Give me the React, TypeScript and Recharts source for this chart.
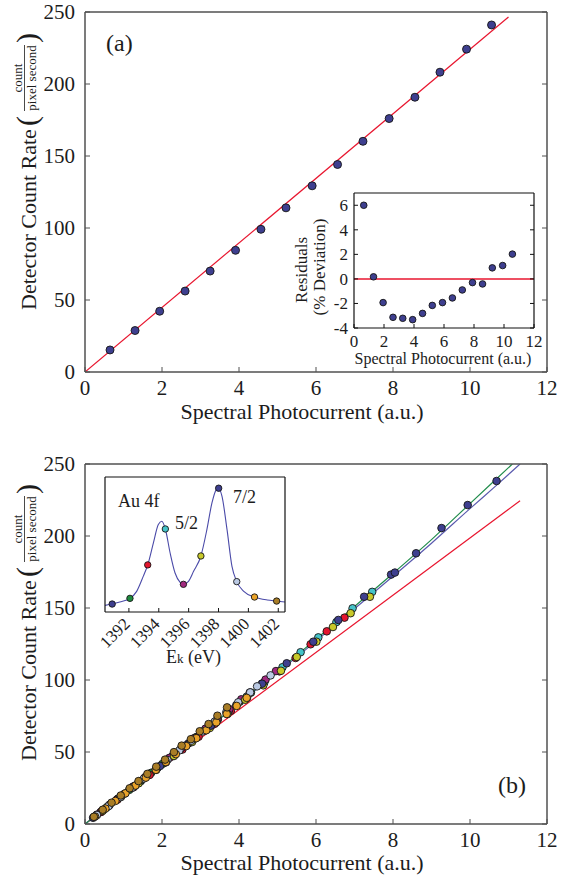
import { ComposedChart, Scatter, Line, XAxis, YAxis, ReferenceLine, Cell } from "recharts";

const SERIF = '"Liberation Serif", "Times New Roman", Times, serif';
const INK = "#1c1c1c";
const FRAME = "#505050";
const BOX = "#111111";
const FIT_RED = "#e8162f";
const NAVY = "#3e3f8f";

// ---- panel (a): linearity check ----
const photocurrentA = [0.65, 1.3, 1.94, 2.6, 3.25, 3.91, 4.57, 5.22, 5.9, 6.56, 7.22, 7.9, 8.57, 9.22, 9.91, 10.56];
const countRateA = [15.3, 28.8, 42.2, 56.2, 70.1, 84.5, 99.1, 114, 129.3, 144.1, 160.2, 176, 190.8, 208.2, 224.2, 241];
const residualA = [6.0, 0.17, -1.93, -3.13, -3.21, -3.32, -2.81, -2.16, -1.93, -1.55, -0.9, -0.3, -0.41, 0.9, 1.09, 2.02];
const fitLineA = [[0, 0], [11.0, 246.5]];

const mainXTicks = [0, 2, 4, 6, 8, 10, 12];
const mainYTicks = [0, 50, 100, 150, 200, 250];
const residXTicks = [0, 2, 4, 6, 8, 10, 12];
const residYTicks = [-4, -2, 0, 2, 4, 6];

// ---- panel (b): runs at each kinetic energy of the Au 4f spectrum ----
const energyColors = ["#3e3f8f", "#1f8a3e", "#e3162f", "#45c3c9", "#a1297f", "#c8c92a", "#3e3f8f", "#bac9e3", "#eaa32a", "#a97d26"];

const runE1 = [[0.21, 4.3], [0.41, 8.4], [0.62, 12.7], [0.83, 17.0], [1.03, 21.1], [1.24, 25.5], [1.45, 29.8], [1.65, 34.0], [1.86, 38.4], [2.07, 42.7], [2.27, 47.1], [2.48, 51.6], [2.69, 56.0], [2.89, 60.3], [3.1, 64.8], [3.3, 69.2]];
const runE2 = [[0.29, 5.9], [0.57, 11.7], [0.86, 17.7], [1.15, 23.7], [1.44, 29.8], [1.72, 35.6], [2.01, 41.7], [2.3, 47.8], [2.59, 54.0], [2.87, 60.0], [3.16, 66.3], [3.45, 72.5], [3.73, 78.5], [4.02, 84.9], [4.31, 91.2], [4.6, 97.6]];
const runE3 = [[0.42, 8.4], [0.84, 16.9], [1.26, 25.5], [1.68, 34.1], [2.1, 42.8], [2.53, 51.7], [2.95, 60.6], [3.37, 69.6], [3.79, 78.6], [4.21, 87.7], [4.63, 96.8], [5.05, 106.0], [5.47, 115.3], [5.86, 124.8], [6.28, 133.8], [6.74, 143.3]];
const runE4 = [[0.47, 9.6], [0.93, 19.0], [1.4, 28.8], [1.87, 38.6], [2.33, 48.3], [2.8, 58.3], [3.27, 68.3], [3.73, 78.2], [4.2, 88.4], [4.66, 98.5], [5.13, 108.9], [5.6, 119.3], [6.06, 129.6], [6.53, 140.2], [6.95, 149.8], [7.46, 161.2]];
const runE5 = [[0.31, 6.5], [0.63, 13.1], [0.94, 19.5], [1.25, 26.0], [1.56, 32.5], [1.88, 39.3], [2.19, 45.9], [2.5, 52.6], [2.81, 59.3], [3.13, 66.2], [3.44, 73.0], [3.75, 79.8], [4.06, 86.6], [4.28, 91.3], [4.69, 100.3], [4.96, 106.2]];
const runE6 = [[0.46, 9.2], [0.93, 18.7], [1.39, 28.2], [1.85, 37.6], [2.31, 47.2], [2.78, 56.9], [3.24, 66.6], [3.7, 76.4], [4.16, 86.3], [4.63, 96.3], [5.09, 106.4], [5.5, 116.0], [6.01, 126.6], [6.44, 136.8], [6.9, 146.4], [7.4, 157.8]];
const runE7 = [[0.64, 13.3], [1.3, 26.6], [1.95, 40.3], [2.62, 54.6], [3.27, 68.3], [3.93, 82.6], [4.6, 97.4], [5.24, 111.6], [5.93, 126.6], [6.58, 141.7], [7.25, 157.8], [7.95, 173.2], [8.05, 174.6], [8.6, 188], [9.26, 205.5], [9.94, 221.5], [10.69, 238.2]];
const runE8 = [[0.31, 6.3], [0.61, 12.4], [0.92, 18.8], [1.22, 25.1], [1.53, 31.6], [1.84, 38.1], [2.14, 44.5], [2.45, 51.1], [2.76, 57.8], [3.06, 64.3], [3.37, 71.1], [3.67, 77.6], [3.98, 84.5], [4.29, 91.4], [4.47, 95.6], [4.82, 103.2]];
const runE9 = [[0.26, 5.2], [0.53, 10.7], [0.79, 16.0], [1.05, 21.3], [1.31, 26.7], [1.58, 32.2], [1.84, 37.6], [2.1, 43.0], [2.36, 48.5], [2.63, 54.1], [2.89, 59.6], [3.15, 65.1], [3.41, 70.6], [3.68, 76.4], [3.94, 82.0], [4.2, 87.6]];
const runE10 = [[0.23, 5.0], [0.46, 9.9], [0.69, 14.8], [0.93, 19.8], [1.16, 24.8], [1.39, 29.8], [1.62, 34.8], [1.85, 39.8], [2.08, 44.7], [2.31, 49.9], [2.51, 54.4], [2.75, 58.9], [2.98, 64.4], [3.21, 69.4], [3.44, 75.2], [3.69, 81.0]];
const runsB = [runE1, runE2, runE3, runE4, runE5, runE6, runE7, runE8, runE9, runE10];

const linearFitB = [[0, 0], [11.3, 224.5]];
const blueFitB = [[0, 0], [2, 41.2], [4, 83.6], [6, 127], [7, 149.5], [8, 172], [9, 195], [10, 219], [10.7, 235.5], [11.3, 250]];
const greenFitB = [[0, 0], [1, 20.5], [2, 41.3], [3, 62.5], [4, 84], [5, 106], [6, 128.3], [7, 151], [8, 174], [9, 197.5], [10, 222.5], [11.1, 250]];

// ---- inset (b): Au 4f spectrum ----
const ekPoints = [[1390.88, 0.059], [1392.07, 0.101], [1393.26, 0.349], [1394.44, 0.615], [1395.65, 0.205], [1396.82, 0.415], [1398.01, 0.917], [1399.22, 0.225], [1400.41, 0.111], [1401.89, 0.081]];
const ekCurve = [
  [1390.39, 0.049], [1390.88, 0.059], [1391.39, 0.074], [1392.07, 0.101], [1392.52, 0.153], [1392.96, 0.264],
  [1393.26, 0.348], [1393.64, 0.512], [1393.97, 0.648], [1394.2, 0.672], [1394.44, 0.615], [1394.76, 0.437],
  [1395.09, 0.289], [1395.43, 0.22], [1395.65, 0.205], [1395.99, 0.227], [1396.33, 0.301], [1396.82, 0.415],
  [1397.22, 0.61], [1397.56, 0.808], [1397.85, 0.907], [1398.01, 0.917], [1398.23, 0.858], [1398.57, 0.61],
  [1398.9, 0.338], [1399.22, 0.225], [1399.69, 0.153], [1400.41, 0.111], [1401.26, 0.089], [1401.89, 0.081],
  [1402.45, 0.074],
];
const ekTicks = [1392, 1394, 1396, 1398, 1400, 1402];

const rows = (pairs: number[][]) => pairs.map(([x, y]) => ({ x, y }));
const NO_MARGIN = { top: 0, right: 0, bottom: 0, left: 0 };

type Side = "bottom" | "top" | "left" | "right";
type TickLabel = { size: number; gap: number; rotate?: boolean };

// ticks point into the plot box (matlab style); labels optional
const inTick = (side: Side, len: number, color: string, label?: TickLabel) => (p: any) => {
  const { x, y, payload } = p;
  const dx = side === "left" ? len : side === "right" ? -len : 0;
  const dy = side === "bottom" ? -len : side === "top" ? len : 0;
  let text = null;
  if (label) {
    const font = { fontFamily: SERIF, fontSize: label.size, fill: INK };
    if (side === "bottom" && label.rotate) {
      const ax = x + 2;
      const ay = y + label.gap;
      text = (
        <text {...font} x={ax} y={ay} textAnchor="end" transform={`rotate(-45 ${ax} ${ay})`}>
          {payload.value}
        </text>
      );
    } else if (side === "bottom") {
      text = <text {...font} x={x} y={y + label.gap} textAnchor="middle">{payload.value}</text>;
    } else if (side === "left") {
      text = <text {...font} x={x - label.gap} y={y} dy="0.34em" textAnchor="end">{payload.value}</text>;
    }
  }
  return (
    <g>
      <line x1={x} y1={y} x2={x + dx} y2={y + dy} stroke={color} strokeWidth={1} />
      {text}
    </g>
  );
};

const dot = (r: number, fill?: string) => (p: any) => (
  <circle cx={p.cx} cy={p.cy} r={r} fill={fill ?? p.fill} stroke="#151515" strokeWidth={0.9} />
);

const axisBase = { type: "number" as const, tickSize: 0, tickMargin: 0, tickLine: false, interval: 0 as const, allowDataOverflow: true };

function CountRateLabel({ baseX, startY }: { baseX: number; startY: number }) {
  return (
    <g transform={`translate(${baseX} ${startY}) rotate(-90)`} fontFamily={SERIF} fill={INK}>
      <text x={0} y={0} fontSize={22}>Detector Count Rate</text>
      <text x={184} y={1} fontSize={30}>(</text>
      <text x={232} y={-14.5} fontSize={13} textAnchor="middle">count</text>
      <line x1={199} x2={265} y1={-11.5} y2={-11.5} stroke={INK} strokeWidth={0.8} />
      <text x={232} y={0} fontSize={13} textAnchor="middle">pixel second</text>
      <text x={267} y={1} fontSize={30}>)</text>
    </g>
  );
}

function frameAxes(xDomain: number[], yDomain: number[], xTicks: number[], yTicks: number[], opts: {
  left: number; right: number; top: number; bottom: number; len: number; color: string; width: number;
  xLabel?: TickLabel; yLabel?: TickLabel; yTicksShown?: boolean;
}) {
  const line = { stroke: opts.color, strokeWidth: opts.width };
  const showY = opts.yTicksShown !== false;
  return [
    <XAxis key="xb" {...axisBase} dataKey="x" domain={xDomain} ticks={xTicks} height={opts.bottom} axisLine={line}
      tick={inTick("bottom", opts.len, opts.color, opts.xLabel)} />,
    <XAxis key="xt" {...axisBase} xAxisId="top" orientation="top" domain={xDomain} ticks={xTicks} height={opts.top}
      axisLine={line} tick={inTick("top", opts.len, opts.color)} />,
    <YAxis key="yl" {...axisBase} dataKey="y" domain={yDomain} ticks={yTicks} width={opts.left} axisLine={line}
      tick={showY ? inTick("left", opts.len, opts.color, opts.yLabel) : false} />,
    <YAxis key="yr" {...axisBase} yAxisId="right" orientation="right" domain={yDomain} ticks={yTicks} width={opts.right}
      axisLine={line} tick={showY ? inTick("right", opts.len, opts.color) : false} />,
  ];
}

export default function App() {
  const pointsA = photocurrentA.map((x, i) => ({ x, y: countRateA[i] }));
  const residPoints = photocurrentA.map((x, i) => ({ x, y: residualA[i] }));
  const mainOpts = { left: 85, right: 15, top: 12, bottom: 48, len: 5, color: FRAME, width: 1.5, xLabel: { size: 21, gap: 23 }, yLabel: { size: 21, gap: 10 } };
  const insetOpts = { left: 45, right: 10, top: 7, bottom: 45, len: 4, color: BOX, width: 1.2 };

  return (
    <div style={{ position: "absolute", left: 0, top: 0, width: 562, height: 875, background: "#fff" }}>
      {/* panel (a) */}
      <div style={{ position: "absolute", left: 0, top: 0 }}>
        <ComposedChart width={562} height={420} margin={NO_MARGIN}>
          {frameAxes([0, 12], [0, 250], mainXTicks, mainYTicks, mainOpts)}
          <Line data={rows(fitLineA)} dataKey="y" stroke={FIT_RED} strokeWidth={1.2} dot={false} isAnimationActive={false} />
          <Scatter data={pointsA} shape={dot(4, NAVY)} isAnimationActive={false} />
        </ComposedChart>
      </div>

      {/* inset (a): residuals */}
      <div style={{ position: "absolute", left: 309, top: 186 }}>
        <ComposedChart width={235} height={187} margin={NO_MARGIN}>
          {frameAxes([0, 12], [-4, 7], residXTicks, residYTicks, { ...insetOpts, xLabel: { size: 17, gap: 18.5 }, yLabel: { size: 17, gap: 6 } })}
          <ReferenceLine y={0} stroke={FIT_RED} strokeWidth={1.5} />
          <Scatter data={residPoints} shape={dot(3.3, NAVY)} isAnimationActive={false} />
        </ComposedChart>
      </div>

      {/* panel (b) */}
      <div style={{ position: "absolute", left: 0, top: 452 }}>
        <ComposedChart width={562} height={420} margin={NO_MARGIN}>
          {frameAxes([0, 12], [0, 250], mainXTicks, mainYTicks, mainOpts)}
          {runsB.map((run, i) => (
            <Scatter key={i} data={rows(run)} shape={dot(3.8, energyColors[i])} isAnimationActive={false} />
          ))}
          <Line data={rows(linearFitB)} dataKey="y" stroke={FIT_RED} strokeWidth={1.2} dot={false} isAnimationActive={false} />
          <Line data={rows(blueFitB)} dataKey="y" type="monotone" stroke="#5a5aae" strokeWidth={1.2} dot={false} isAnimationActive={false} />
          <Line data={rows(greenFitB)} dataKey="y" type="monotone" stroke="#218c4c" strokeWidth={1.2} dot={false} isAnimationActive={false} />
        </ComposedChart>
      </div>

      {/* inset (b): Au 4f spectrum */}
      <div style={{ position: "absolute", left: 60, top: 470 }}>
        <ComposedChart width={240} height={210} margin={NO_MARGIN}>
          {frameAxes([1390.4, 1402.45], [0, 1], ekTicks, [], { ...insetOpts, left: 45, right: 15, top: 7, bottom: 68, xLabel: { size: 17, gap: 13, rotate: true }, yTicksShown: false })}
          <Line data={rows(ekCurve)} dataKey="y" type="monotone" stroke="#4a4aa8" strokeWidth={1.1} dot={false} isAnimationActive={false} />
          <Scatter data={rows(ekPoints)} shape={dot(3.2)} isAnimationActive={false}>
            {ekPoints.map((_, i) => (
              <Cell key={i} fill={energyColors[i]} />
            ))}
          </Scatter>
        </ComposedChart>
      </div>

      {/* titles and annotations */}
      <svg width={562} height={875} style={{ position: "absolute", left: 0, top: 0, pointerEvents: "none" }} fontFamily={SERIF} fill={INK}>
        <CountRateLabel baseX={36} startY={310} />
        <CountRateLabel baseX={36} startY={761} />
        <text x={302} y={419} fontSize={22} textAnchor="middle">Spectral Photocurrent (a.u.)</text>
        <text x={302} y={870} fontSize={22} textAnchor="middle">Spectral Photocurrent (a.u.)</text>
        <text x={106} y={51} fontSize={24}>(a)</text>
        <text x={498} y={793} fontSize={24}>(b)</text>

        <text x={443} y={364} fontSize={16} textAnchor="middle">Spectral Photocurrent (a.u.)</text>
        <g transform="translate(307 270) rotate(-90)">
          <text x={0} y={0} fontSize={17} textAnchor="middle">Residuals</text>
        </g>
        <g transform="translate(325 267) rotate(-90)">
          <text x={0} y={0} fontSize={17} textAnchor="middle">(% Deviation)</text>
        </g>

        <text x={118} y={507} fontSize={18}>Au 4f</text>
        <text x={175} y={529} fontSize={18}>5/2</text>
        <text x={233} y={503} fontSize={18}>7/2</text>
        <text x={166} y={663} fontSize={18}>
          E<tspan fontSize={13}>k</tspan> (eV)
        </text>
      </svg>
    </div>
  );
}
